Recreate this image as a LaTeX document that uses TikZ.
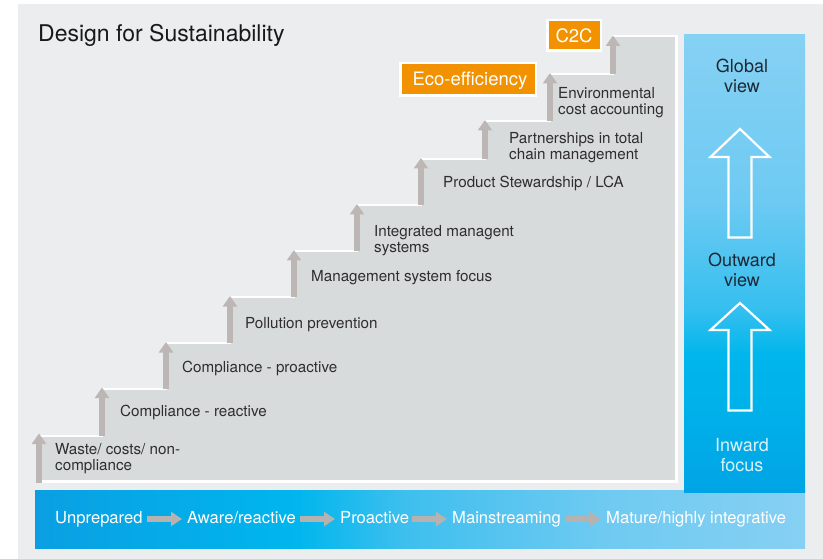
\documentclass[tikz,border=0pt]{standalone}
\usepackage{fontspec}
\setmainfont{TeX Gyre Heros}
\usetikzlibrary{arrows.meta}
\definecolor{bgc}{HTML}{ECEDEF}
\definecolor{stairc}{HTML}{D8DBDC}
\definecolor{sarrowc}{HTML}{BCB7B4}
\definecolor{txtc}{HTML}{2E2E2E}
\definecolor{orangec}{HTML}{F39200}
\definecolor{barrowc}{HTML}{B5B2B0}
\definecolor{darkc}{HTML}{1E2833}
\definecolor{lightc}{HTML}{D8F2FC}
\definecolor{colA}{HTML}{00A4E5}
\definecolor{colB}{HTML}{00B2EA}
\definecolor{colC}{HTML}{00B6EC}
\definecolor{colD}{HTML}{35BFEF}
\definecolor{colE}{HTML}{6ECAF2}
\definecolor{colF}{HTML}{86D1F4}
\definecolor{barA}{HTML}{0A9FE2}
\definecolor{barB}{HTML}{00B6ED}
\definecolor{barC}{HTML}{3EBFEE}
\definecolor{barD}{HTML}{6FCAF1}
\definecolor{barE}{HTML}{86D0F3}
\pgfdeclareverticalshading{colshade}{100bp}{color(0bp)=(colA); color(25bp)=(colA); color(35bp)=(colB); color(40bp)=(colC); color(45bp)=(colD); color(57bp)=(colE); color(75bp)=(colF); color(100bp)=(colF)}
\pgfdeclarehorizontalshading{barshade}{100bp}{color(0bp)=(barA); color(25bp)=(barA); color(42bp)=(barB); color(49bp)=(barC); color(62bp)=(barD); color(75bp)=(barE); color(100bp)=(barE)}
\tikzset{
  steplabel/.style={anchor=base west, align=left, inner sep=0pt, text=txtc, font=\fontsize{15.2}{16}\selectfont},
  steparrow/.style={draw=sarrowc, line width=5.7pt, -{Triangle[width=14pt,length=10.5pt]}},
  barlabel/.style={anchor=base west, inner sep=0pt, text=white, font=\fontsize{16.6}{18}\selectfont},
  bararrow/.style={draw=barrowc, line width=6pt, -{Triangle[width=14pt,length=11pt]}},
  collabel/.style={anchor=base, align=center, inner sep=0pt, font=\fontsize{18}{20}\selectfont},
  orangebox/.style={fill=orangec, draw=white, line width=2.5pt, inner sep=0pt},
  orangetext/.style={anchor=base, inner sep=0pt, text=white, font=\fontsize{18.5}{19}\selectfont},
  colarrow/.style={draw=white, line width=2.2pt, line join=miter},
}
\begin{document}
\begin{tikzpicture}[x=1pt,y=-1pt]
\useasboundingbox (0,0) rectangle (823,559);
\fill[white] (0,0) rectangle (823,559);
\fill[bgc] (18,4) rectangle (823,559);

% title
\node[anchor=base west, inner sep=0pt, text=black!90, font=\fontsize{23}{24}\selectfont] (title) at (38,42) {Design for Sustainability};

% staircase
\filldraw[fill=stairc, draw=white, line width=2.5pt, line join=miter]
  (39,481.5) -- (39,436) -- (102,436) -- (102,389) -- (166,389) -- (166,343)
  -- (230,343) -- (230,297) -- (294,297) -- (294,251) -- (357,251) -- (357,205)
  -- (421,205) -- (421,159) -- (485,159) -- (485,121) -- (550,121) -- (550,74)
  -- (613,74) -- (613,36) -- (676.5,36) -- (676.5,481.5) -- cycle;

% step arrows
\coordinate (b1) at (39,483);   \coordinate (t1) at (39,433.5);
\coordinate (b2) at (102,436);  \coordinate (t2) at (102,387.5);
\coordinate (b3) at (166,389);  \coordinate (t3) at (166,342);
\coordinate (b4) at (230,343);  \coordinate (t4) at (230,296);
\coordinate (b5) at (294,297);  \coordinate (t5) at (294,250);
\coordinate (b6) at (357,251);  \coordinate (t6) at (357,204);
\coordinate (b7) at (421,205);  \coordinate (t7) at (421,158);
\coordinate (b8) at (485,159);  \coordinate (t8) at (485,120);
\coordinate (b9) at (550,121);  \coordinate (t9) at (550,73);
\coordinate (b10) at (613,74);  \coordinate (t10) at (613,35.5);
\foreach \i in {1,...,10} { \draw[steparrow] (b\i) -- (t\i); }

% step labels (multi-line nodes: base = last line)
\node[steplabel] (l1) at (55,470) {Waste/ costs/ non-\\compliance};
\node[steplabel] (l2) at (120,416) {Compliance - reactive};
\node[steplabel] (l3) at (182,372) {Compliance - proactive};
\node[steplabel] (l4) at (245,328) {Pollution prevention};
\node[steplabel] (l5) at (311,282) {Management system focus};
\node[steplabel] (l6) at (374,252) {Integrated managent\\systems};
\node[steplabel] (l7) at (443,188) {Product Stewardship / LCA};
\node[steplabel] (l8) at (509,160) {Partnerships in total\\chain management};
\node[steplabel] (l9) at (558,115) {Environmental\\cost accounting};

% orange boxes
\node[orangebox, minimum width=135.5pt, minimum height=32.5pt] (eco) at (468,79.5) {};
\node[orangetext] (ecot) at (470,85.5) {Eco-efficiency};
\node[orangebox, minimum width=53.5pt, minimum height=30.5pt] (c2c) at (574,35.5) {};
\node[orangetext] (c2ct) at (574,42.5) {C2C};

% bottom bar
\shade[shading=barshade] (35,490) rectangle (805,548);
\node[barlabel] (p1) at (55,523.5) {Unprepared};
\node[barlabel] (p2) at (187,523.5) {Aware/reactive};
\node[barlabel] (p3) at (340,523.5) {Proactive};
\node[barlabel] (p4) at (452,523.5) {Mainstreaming};
\node[barlabel] (p5) at (606,523.5) {Mature/highly integrative};
\coordinate (a1s) at (147,519); \coordinate (a1e) at (182,519);
\coordinate (a2s) at (300,519); \coordinate (a2e) at (335,519);
\coordinate (a3s) at (412,519); \coordinate (a3e) at (447,519);
\coordinate (a4s) at (566,519); \coordinate (a4e) at (601,519);
\draw[bararrow] (a1s) -- (a1e);
\draw[bararrow] (a2s) -- (a2e);
\draw[bararrow] (a3s) -- (a3e);
\draw[bararrow] (a4s) -- (a4e);

% right column
\shade[shading=colshade] (684,35) rectangle (805,492);
\node[collabel, text=darkc] (glob) at (742,93) {Global\\view};
\node[collabel, text=darkc] (outw) at (742,287) {Outward\\view};
\node[collabel, text=lightc] (inw) at (742,471) {Inward\\focus};
\draw[colarrow] (740,129) -- (769.5,157) -- (751.5,157) -- (751.5,237.5) -- (728.5,237.5) -- (728.5,157) -- (710.5,157) -- cycle;
\draw[colarrow] (740,303) -- (769.5,330) -- (751.5,330) -- (751.5,410.5) -- (728.5,410.5) -- (728.5,330) -- (710.5,330) -- cycle;
\end{tikzpicture}
\end{document}
